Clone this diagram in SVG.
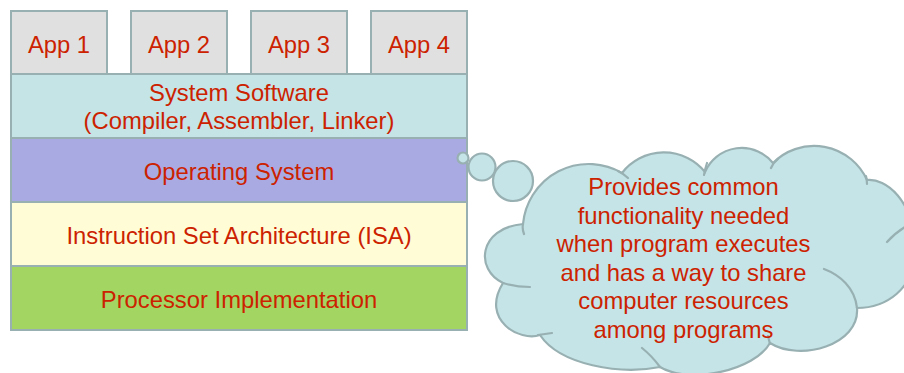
<svg xmlns="http://www.w3.org/2000/svg" width="904" height="373" viewBox="0 0 904 373">
  <style>
    .box { stroke: #98b0b2; stroke-width: 2; }
    .app { fill: #e0e0e0; }
    .label { font-family: "Liberation Sans", Arial, sans-serif; font-size: 23.8px; fill: #cc2200; text-anchor: middle; }
    .cloud { fill: #c4e4e7; stroke: #98b0b2; stroke-width: 2.2; }
    .inner { fill: none; stroke: #98b0b2; stroke-width: 2.2; stroke-linecap: round; }
  </style>

  <rect width="904" height="373" fill="#ffffff"/>

  <!-- application boxes -->
  <g id="app1">
    <rect class="box app" x="11" y="11" width="96" height="63"/>
    <text class="label" x="59" y="52.5">App 1</text>
  </g>
  <g id="app2">
    <rect class="box app" x="131" y="11" width="96" height="63"/>
    <text class="label" x="179" y="52.5">App 2</text>
  </g>
  <g id="app3">
    <rect class="box app" x="251" y="11" width="96" height="63"/>
    <text class="label" x="299" y="52.5">App 3</text>
  </g>
  <g id="app4">
    <rect class="box app" x="371" y="11" width="96" height="63"/>
    <text class="label" x="419" y="52.5">App 4</text>
  </g>

  <!-- layer stack -->
  <g id="system-software">
    <rect class="box" x="11" y="74" width="456" height="64" fill="#c4e4e6"/>
    <text class="label" x="239" y="101">System Software</text>
    <text class="label" x="239" y="128.5">(Compiler, Assembler, Linker)</text>
  </g>
  <g id="operating-system">
    <rect class="box" x="11" y="138" width="456" height="64" fill="#aaaae2"/>
    <text class="label" x="239" y="180">Operating System</text>
  </g>
  <g id="isa">
    <rect class="box" x="11" y="202" width="456" height="64" fill="#fffcd6"/>
    <text class="label" x="239" y="244.3">Instruction Set Architecture (ISA)</text>
  </g>
  <g id="processor">
    <rect class="box" x="11" y="266" width="456" height="64" fill="#a3d563"/>
    <text class="label" x="239" y="308.3">Processor Implementation</text>
  </g>

  <!-- thought-cloud callout -->
  <g id="os-callout">
    <circle class="cloud" cx="463" cy="158" r="5.5"/>
    <circle class="cloud" cx="482" cy="167" r="13.5"/>
    <circle class="cloud" cx="513" cy="181" r="20"/>
    <path class="cloud" d="M 523 224
      A 66 66 0 0 1 622 173
      A 53 53 0 0 1 705 172
      A 40 40 0 0 1 773 163
      A 58 58 0 0 1 867 180
      C 885 178 915 200 915 250
      C 915 290 885 308 857 308
      C 860 345 800 362 770 343
      C 755 370 690 385 660 367
      C 620 375 560 365 540 335
      C 520 342 480 320 503 283
      C 475 270 478 228 523 224 Z"/>
    <path class="inner" d="M 523 224 Q 522 229 524 234
      M 618 171 Q 624 174 628 178
      M 707 163 Q 705 169 704 175
      M 771 168 Q 773 163 778 159
      M 866 176 Q 867 180 867 184
      M 887 242 Q 895 233 905 227
      M 824 269 C 840 275 855 288 857 308
      M 770 344 Q 769 340 768 336
      M 642 348 Q 652 356 660 367
      M 538 335 Q 545 334 552 333
      M 503 283 Q 515 287 530 287"/>
    <text class="label" x="683.5" y="195">Provides common</text>
    <text class="label" x="683.5" y="223.6">functionality needed</text>
    <text class="label" x="683.5" y="252.2">when program executes</text>
    <text class="label" x="683.5" y="280.8">and has a way to share</text>
    <text class="label" x="683.5" y="309.4">computer resources</text>
    <text class="label" x="683.5" y="338">among programs</text>
  </g>

  <!-- no connectors between layers -->
  <g id="connectors"/>
</svg>
